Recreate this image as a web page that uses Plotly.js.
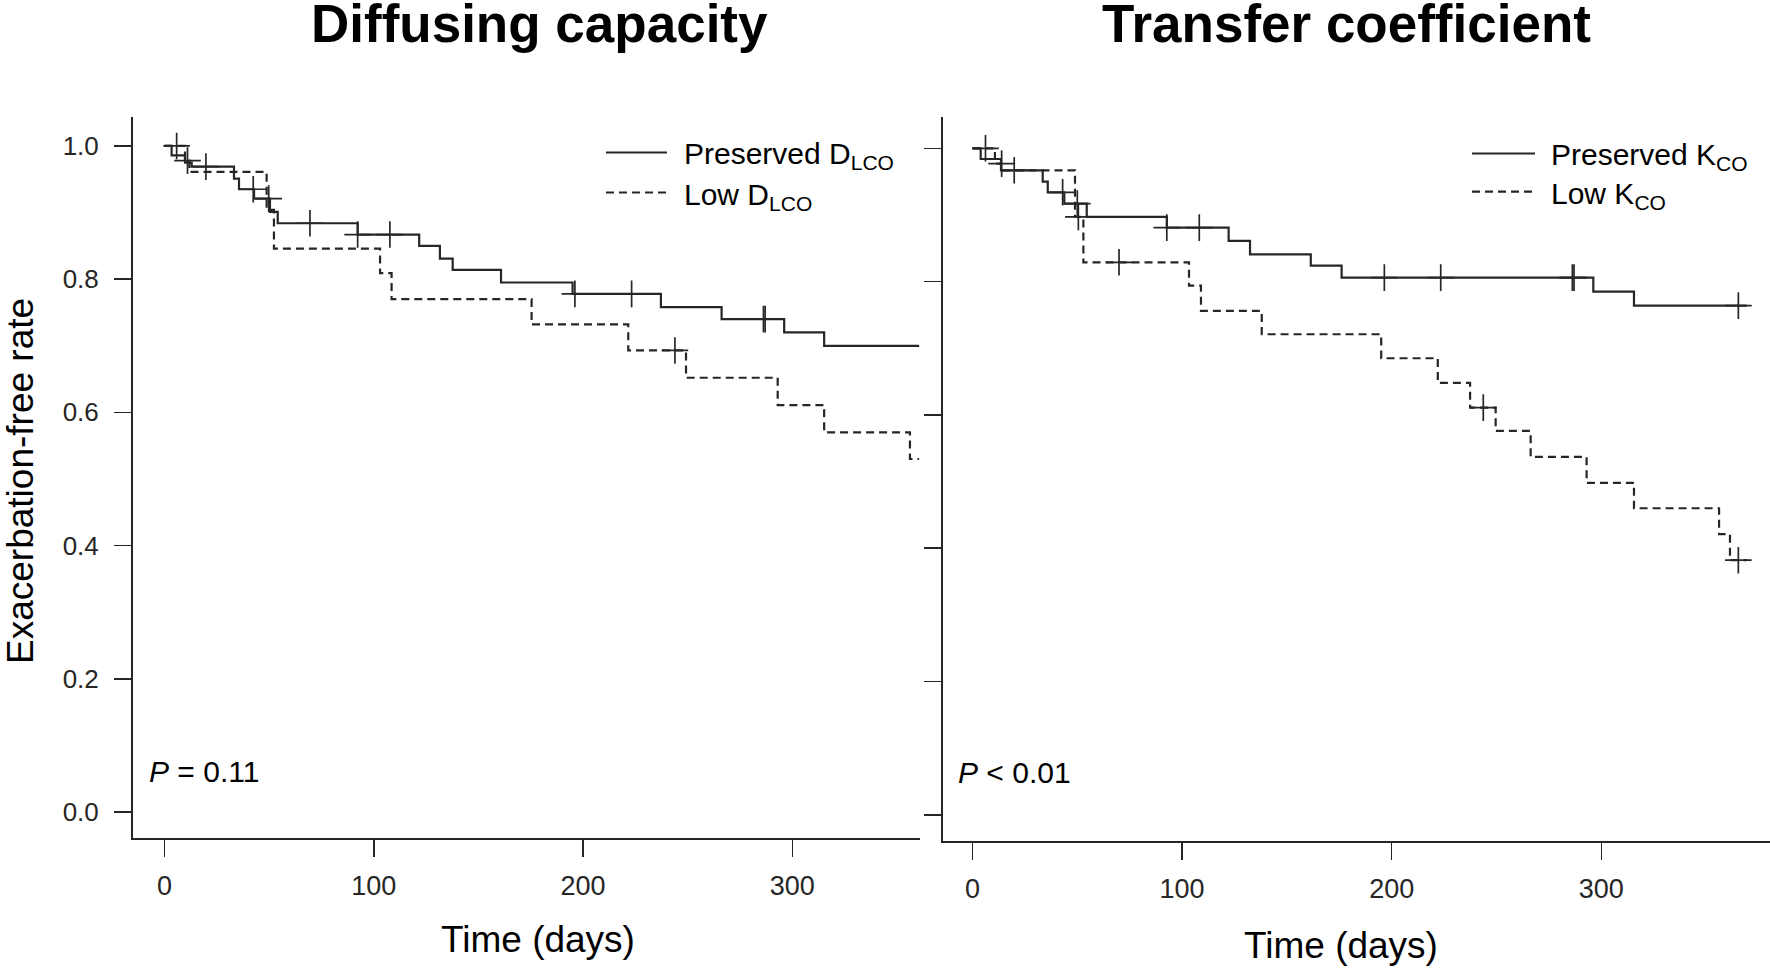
<!DOCTYPE html>
<html>
<head>
<meta charset="utf-8">
<script src="https://cdn.plot.ly/plotly-3.0.1.min.js"></script>
<style>
  html, body { margin: 0; padding: 0; background: #ffffff; }
  #chart { width: 1770px; height: 969px; }
</style>
</head>
<body>
<div id="chart"></div>
<script>
// ---------------- Data ----------------
// Panel A: Diffusing capacity (DLCO) — Kaplan–Meier step points (time in days, exacerbation-free rate)
const dlcoPresTime = [0, 3.4, 9.8, 13, 33.2, 35.6, 42.8, 50.4, 54.1, 92.3, 121.7, 131.6, 137.7, 160.8, 195, 237.2, 266.2, 296.1, 315.2, 360.6];
const dlcoPresRate = [1.0, 0.986, 0.975, 0.969, 0.951, 0.935, 0.921, 0.901, 0.884, 0.867, 0.850, 0.831, 0.814, 0.795, 0.778, 0.758, 0.740, 0.720, 0.700, 0.700];
const dlcoPresCensTime = [5.8, 19.8, 42.4, 49.8, 69.5, 92.3, 107.7, 196.1, 223.2, 286.2, 287.0];
const dlcoPresCensRate = [1.0, 0.969, 0.935, 0.921, 0.884, 0.867, 0.867, 0.778, 0.778, 0.740, 0.740];

const dlcoLowTime = [0, 9.8, 11.9, 48.8, 52.3, 103, 108.5, 175.4, 221.6, 249.2, 293, 315.2, 356.2, 360.6];
const dlcoLowRate = [1.0, 0.978, 0.961, 0.904, 0.846, 0.809, 0.770, 0.732, 0.693, 0.652, 0.611, 0.570, 0.530, 0.530];
const dlcoLowCensTime = [11.0, 243.9];
const dlcoLowCensRate = [0.978, 0.693];

// Panel B: Transfer coefficient (KCO)
const kcoPresTime = [0, 3.9, 13.6, 33.5, 35.9, 43.8, 54.5, 92.7, 122.2, 132.4, 161.4, 176.1, 296.2, 315.6, 369.4];
const kcoPresRate = [1.0, 0.984, 0.967, 0.950, 0.934, 0.917, 0.897, 0.881, 0.861, 0.841, 0.824, 0.806, 0.785, 0.764, 0.764];
const kcoPresCensTime = [6.2, 19.9, 43.0, 50.0, 92.7, 108.2, 196.5, 223.4, 286.2, 287.0, 365.4];
const kcoPresCensRate = [1.0, 0.967, 0.934, 0.917, 0.881, 0.881, 0.806, 0.806, 0.806, 0.806, 0.764];

const kcoLowTime = [0, 10.7, 13.6, 48.9, 52.9, 103.3, 109, 138, 195, 222, 237.4, 249.6, 266.3, 293, 315.6, 356.2, 361.4, 369.4];
const kcoLowRate = [1.0, 0.977, 0.967, 0.897, 0.829, 0.794, 0.756, 0.721, 0.685, 0.648, 0.611, 0.576, 0.537, 0.498, 0.460, 0.421, 0.382, 0.382];
const kcoLowCensTime = [13.9, 50.5, 69.9, 243.7, 365.4];
const kcoLowCensRate = [0.977, 0.897, 0.829, 0.611, 0.382];

const xTickVals = [0, 100, 200, 300];
const yTickVals = [0.0, 0.2, 0.4, 0.6, 0.8, 1.0];
const panelTitles = ["Diffusing capacity", "Transfer coefficient"];
const legendLabels = [["Preserved D<sub>LCO</sub>", "Low D<sub>LCO</sub>"], ["Preserved K<sub>CO</sub>", "Low K<sub>CO</sub>"]];
const pValueTexts = ["<i>P</i> = 0.11", "<i>P</i> &lt; 0.01"];

// ---------------- Styling ----------------
const INK = "#262626";
const FONT = "Liberation Sans, Arial, Helvetica, sans-serif";
const W = 1770, H = 969;
const px = v => v / W;           // pixel x -> paper
const py = v => 1 - v / H;       // pixel y (from top) -> paper

function stepTrace(t, s, xa, ya, dashed, name) {
  return {
    type: "scatter", mode: "lines", x: t, y: s, xaxis: xa, yaxis: ya, name: name,
    line: { shape: "hv", color: INK, width: 2.2, dash: dashed ? "8px,5px" : "solid" },
    hoverinfo: "x+y", showlegend: false
  };
}
function censorTrace(t, s, xa, ya, name) {
  return {
    type: "scatter", mode: "markers", x: t, y: s, xaxis: xa, yaxis: ya, name: name,
    marker: { symbol: "cross-thin", size: 19, color: INK, line: { color: INK, width: 1.7 } },
    hoverinfo: "x+y", showlegend: false
  };
}

const traces = [
  stepTrace(dlcoPresTime, dlcoPresRate, "x", "y", false, "Preserved DLCO"),
  stepTrace(dlcoLowTime, dlcoLowRate, "x", "y", true, "Low DLCO"),
  censorTrace(dlcoPresCensTime, dlcoPresCensRate, "x", "y", "Preserved DLCO censored"),
  censorTrace(dlcoLowCensTime, dlcoLowCensRate, "x", "y", "Low DLCO censored"),
  stepTrace(kcoPresTime, kcoPresRate, "x2", "y2", false, "Preserved KCO"),
  stepTrace(kcoLowTime, kcoLowRate, "x2", "y2", true, "Low KCO"),
  censorTrace(kcoPresCensTime, kcoPresCensRate, "x2", "y2", "Preserved KCO censored"),
  censorTrace(kcoLowCensTime, kcoLowCensRate, "x2", "y2", "Low KCO censored")
];

const axisCommon = {
  showline: true, linecolor: INK, linewidth: 2, mirror: false,
  ticks: "outside", ticklen: 17, tickwidth: 1.5, tickcolor: INK,
  showgrid: false, zeroline: false, fixedrange: true,
  tickfont: { family: FONT, size: 26, color: INK }
};

const layout = {
  width: W, height: H,
  margin: { l: 0, r: 0, t: 0, b: 0, pad: 0 },
  paper_bgcolor: "#ffffff", plot_bgcolor: "#ffffff",
  showlegend: false,
  font: { family: FONT, color: INK },
  xaxis: Object.assign({}, axisCommon, {
    domain: [px(133), px(920)], range: [-15.05, 361.0], anchor: "y",
    tickvals: xTickVals, ticklabelstandoff: 6, tickfont: { family: FONT, size: 27, color: INK }
  }),
  yaxis: Object.assign({}, axisCommon, {
    domain: [py(837.6), py(117.4)], range: [-0.0384, 1.0429], anchor: "x",
    tickvals: yTickVals, tickformat: ".1f", ticklabelstandoff: 10
  }),
  xaxis2: Object.assign({}, axisCommon, {
    domain: [px(942.6), 1], range: [-14.27, 380.5], anchor: "y2",
    tickvals: xTickVals, ticklabelstandoff: 6, tickfont: { family: FONT, size: 27, color: INK }
  }),
  yaxis2: Object.assign({}, axisCommon, {
    domain: [py(841), py(117.4)], range: [-0.0393, 1.0464], anchor: "x2",
    tickvals: yTickVals, showticklabels: false
  }),
  shapes: [
    { type: "line", xref: "paper", yref: "paper", x0: px(606), x1: px(667), y0: py(152.5), y1: py(152.5), line: { color: INK, width: 2.2 } },
    { type: "line", xref: "paper", yref: "paper", x0: px(606), x1: px(666), y0: py(192.5), y1: py(192.5), line: { color: INK, width: 2.2, dash: "8px,5px" } },
    { type: "line", xref: "paper", yref: "paper", x0: px(1472), x1: px(1535), y0: py(153.5), y1: py(153.5), line: { color: INK, width: 2.2 } },
    { type: "line", xref: "paper", yref: "paper", x0: px(1472), x1: px(1532), y0: py(191.7), y1: py(191.7), line: { color: INK, width: 2.2, dash: "8px,5px" } }
  ],
  annotations: [
    { text: "<b>" + panelTitles[0] + "</b>", xref: "paper", yref: "paper", x: px(539), y: py(24), xanchor: "center", yanchor: "middle", showarrow: false, font: { family: FONT, size: 53, color: "#000" } },
    { text: "<b>" + panelTitles[1] + "</b>", xref: "paper", yref: "paper", x: px(1346), y: py(24), xanchor: "center", yanchor: "middle", showarrow: false, font: { family: FONT, size: 53, color: "#000" } },
    { text: "Exacerbation-free rate", xref: "paper", yref: "paper", x: px(20), y: py(481), xanchor: "center", yanchor: "middle", textangle: -90, showarrow: false, font: { family: FONT, size: 37, color: "#000" } },
    { text: "Time (days)", xref: "paper", yref: "paper", x: px(538), y: py(939), xanchor: "center", yanchor: "middle", showarrow: false, font: { family: FONT, size: 37, color: "#000" } },
    { text: "Time (days)", xref: "paper", yref: "paper", x: px(1341), y: py(945), xanchor: "center", yanchor: "middle", showarrow: false, font: { family: FONT, size: 37, color: "#000" } },
    { text: legendLabels[0][0], xref: "paper", yref: "paper", x: px(682), y: py(156), xanchor: "left", yanchor: "middle", showarrow: false, font: { family: FONT, size: 30, color: "#000" } },
    { text: legendLabels[0][1], xref: "paper", yref: "paper", x: px(682), y: py(196), xanchor: "left", yanchor: "middle", showarrow: false, font: { family: FONT, size: 30, color: "#000" } },
    { text: legendLabels[1][0], xref: "paper", yref: "paper", x: px(1549), y: py(156.5), xanchor: "left", yanchor: "middle", showarrow: false, font: { family: FONT, size: 30, color: "#000" } },
    { text: legendLabels[1][1], xref: "paper", yref: "paper", x: px(1549), y: py(195.5), xanchor: "left", yanchor: "middle", showarrow: false, font: { family: FONT, size: 30, color: "#000" } },
    { text: pValueTexts[0], xref: "paper", yref: "paper", x: px(147), y: py(771), xanchor: "left", yanchor: "middle", showarrow: false, font: { family: FONT, size: 30, color: "#000" } },
    { text: pValueTexts[1], xref: "paper", yref: "paper", x: px(956), y: py(772), xanchor: "left", yanchor: "middle", showarrow: false, font: { family: FONT, size: 30, color: "#000" } }
  ]
};

Plotly.newPlot("chart", traces, layout, { displayModeBar: false, staticPlot: true });
</script>
</body>
</html>
